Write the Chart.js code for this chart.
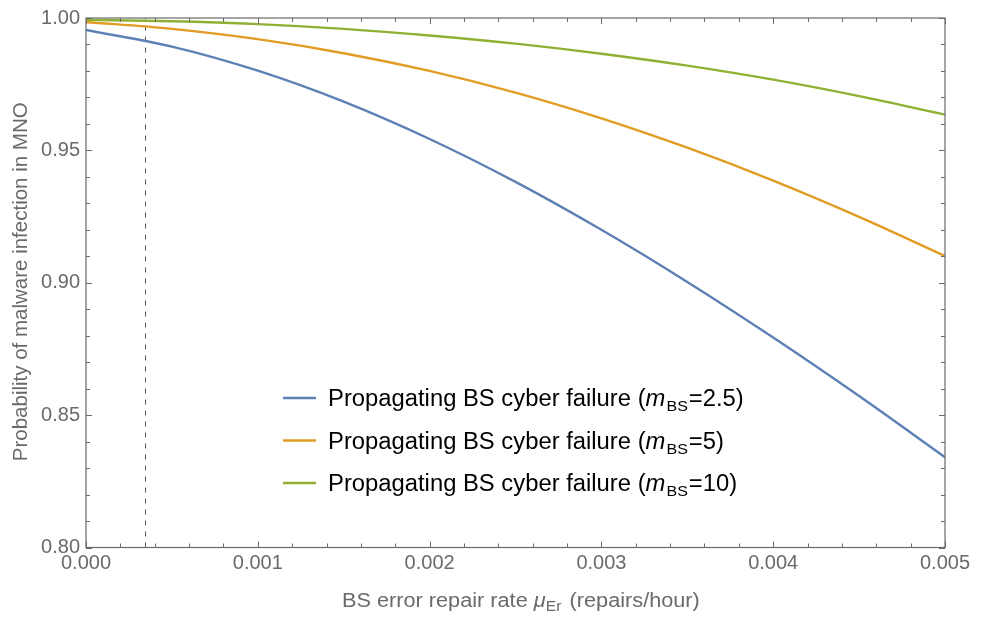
<!DOCTYPE html>
<html>
<head>
<meta charset="utf-8">
<script src="https://cdn.jsdelivr.net/npm/chart.js@4/dist/chart.umd.min.js"></script>
<style>
  html, body { margin: 0; padding: 0; background: #fff; }
  #c { display: block; }
</style>
</head>
<body>
<canvas id="c" width="981" height="617"></canvas>
<script>
// ---- Data ----
const repairRates = [0, 0.0005, 0.001, 0.0015, 0.002, 0.0025, 0.003, 0.0035, 0.004, 0.0045, 0.005];
const probM2p5 = [0.9955, 0.9892, 0.9801, 0.9684, 0.9543, 0.9381, 0.9200, 0.9003, 0.8793, 0.8572, 0.8341];
const probM5   = [0.9985, 0.9959, 0.9920, 0.9867, 0.9800, 0.9718, 0.9621, 0.9510, 0.9386, 0.9249, 0.9101];
const probM10  = [0.9993, 0.9988, 0.9977, 0.9959, 0.9934, 0.9903, 0.9865, 0.9820, 0.9767, 0.9705, 0.9635];
const mValues = ['2.5', '5', '10'];
const seriesLabelBase = 'Propagating BS cyber failure (';
const xTickValues = [0, 0.001, 0.002, 0.003, 0.004, 0.005];
const yTickValues = [0.80, 0.85, 0.90, 0.95, 1.00];
const xMinorStep = 0.0002;
const yMinorStep = 0.01;
const dashedLineX = 0.000343;
const xTitleParts = ['BS error repair rate ', '\u03BC', 'Er', ' (repairs/hour)'];
const yTitle = 'Probability of malware infection in MNO';

const colors = ['#5E81B5', '#E19C24', '#8FB032'];
const FONT = '"Liberation Sans", Arial, sans-serif';

function toPoints(ys) { return repairRates.map((x, i) => ({ x: x, y: ys[i] })); }

const series = [probM2p5, probM5, probM10];
const datasets = series.map((s, i) => ({
  label: seriesLabelBase + 'm_BS=' + mValues[i] + ')',
  data: toPoints(s),
  borderColor: colors[i],
  backgroundColor: colors[i],
  borderWidth: 2.4,
  pointRadius: 0,
  cubicInterpolationMode: 'monotone',
  fill: false
}));

function drawRich(ctx, parts, x, y, sx) {
  ctx.save();
  ctx.translate(x, y);
  ctx.scale(sx || 1, 1);
  let cx = 0;
  parts.forEach(p => {
    ctx.font = p.font;
    ctx.fillStyle = p.color;
    ctx.fillText(p.text, cx, (p.dy || 0));
    cx += ctx.measureText(p.text).width + (p.after || 0);
  });
  ctx.restore();
}

const framePlugin = {
  id: 'framePlugin',
  beforeDatasetsDraw(chart) {
    const { ctx, chartArea: a, scales: { x } } = chart;
    const px = x.getPixelForValue(dashedLineX);
    ctx.save();
    ctx.strokeStyle = '#555';
    ctx.lineWidth = 1;
    ctx.setLineDash([5, 6]);
    ctx.beginPath();
    ctx.moveTo(Math.round(px) + 0.5, a.bottom);
    ctx.lineTo(Math.round(px) + 0.5, a.top);
    ctx.stroke();
    ctx.restore();
  },
  afterDatasetsDraw(chart) {
    const { ctx, chartArea: a, scales: { x, y } } = chart;
    ctx.save();
    ctx.strokeStyle = '#6a6a6a';
    ctx.lineWidth = 1.2;
    ctx.setLineDash([]);
    ctx.strokeRect(a.left, a.top, a.right - a.left, a.bottom - a.top);
    ctx.lineWidth = 1;
    ctx.beginPath();
    const nx = Math.round((x.max - x.min) / xMinorStep);
    for (let i = 0; i <= nx; i++) {
      const v = x.min + i * xMinorStep;
      const len = (i % 5 === 0) ? 6 : 4;
      const px = Math.round(x.getPixelForValue(v)) + 0.5;
      ctx.moveTo(px, a.bottom); ctx.lineTo(px, a.bottom - len);
      ctx.moveTo(px, a.top); ctx.lineTo(px, a.top + len);
    }
    const ny = Math.round((y.max - y.min) / yMinorStep);
    for (let i = 0; i <= ny; i++) {
      const v = y.min + i * yMinorStep;
      const len = (i % 5 === 0) ? 6 : 4;
      const py = Math.round(y.getPixelForValue(v)) + 0.5;
      ctx.moveTo(a.left, py); ctx.lineTo(a.left + len, py);
      ctx.moveTo(a.right, py); ctx.lineTo(a.right - len, py);
    }
    ctx.stroke();

    // Axis titles
    ctx.textBaseline = 'alphabetic';
    ctx.textAlign = 'left';
    const tf = '20px ' + FONT;
    const tfi = 'italic 20px ' + FONT;
    const tfs = '14.5px ' + FONT;
    const tc = '#6a6a6a';
    drawRich(ctx, [
      { text: xTitleParts[0], font: tf, color: tc },
      { text: xTitleParts[1], font: tfi, color: tc },
      { text: xTitleParts[2], font: tfs, color: tc, dy: 4, after: 2 },
      { text: xTitleParts[3], font: tf, color: tc }
    ], 342, 606.5, 1.085);

    ctx.save();
    ctx.translate(27, (a.top + a.bottom) / 2 - 1);
    ctx.rotate(-Math.PI / 2);
    ctx.font = '20.5px ' + FONT;
    ctx.fillStyle = tc;
    ctx.textAlign = 'center';
    ctx.fillText(yTitle, 0, 0);
    ctx.restore();

    // Legend
    const rows = [398, 440.5, 483];
    const lf = '23px ' + FONT;
    const lfi = 'italic 23px ' + FONT;
    const lfs = '15.5px ' + FONT;
    chart.data.datasets.forEach((ds, i) => {
      const ry = rows[i];
      ctx.strokeStyle = ds.borderColor;
      ctx.lineWidth = 2.4;
      ctx.beginPath();
      ctx.moveTo(283, ry); ctx.lineTo(316, ry);
      ctx.stroke();
      drawRich(ctx, [
        { text: seriesLabelBase, font: lf, color: '#000' },
        { text: 'm', font: lfi, color: '#000', after: 1 },
        { text: 'BS', font: lfs, color: '#000', dy: 5, after: 1 },
        { text: '=' + mValues[i] + ')', font: lf, color: '#000' }
      ], 328, ry + 8, 1.035);
    });
    ctx.restore();
  }
};

new Chart(document.getElementById('c'), {
  type: 'line',
  data: { datasets: datasets },
  options: {
    responsive: false,
    animation: false,
    devicePixelRatio: 1,
    layout: { padding: { left: 0, top: 16, right: 36, bottom: 0 } },
    plugins: { legend: { display: false }, tooltip: { enabled: false } },
    scales: {
      x: {
        type: 'linear',
        min: 0, max: 0.005,
        afterBuildTicks(scale) { scale.ticks = xTickValues.map(v => ({ value: v })); },
        afterFit(scale) { scale.height = 617 - 547.5; },
        grid: { display: false, drawTicks: false },
        border: { display: false },
        ticks: {
          color: '#6a6a6a',
          font: { family: FONT, size: 20 },
          padding: 4,
          maxRotation: 0,
          autoSkip: false,
          callback: v => Number(v).toFixed(3)
        }
      },
      y: {
        type: 'linear',
        min: 0.8, max: 1.0,
        afterBuildTicks(scale) { scale.ticks = yTickValues.map(v => ({ value: v })); },
        afterFit(scale) { scale.width = 86; },
        grid: { display: false, drawTicks: false },
        border: { display: false },
        ticks: {
          color: '#6a6a6a',
          font: { family: FONT, size: 20 },
          padding: 6,
          autoSkip: false,
          callback: v => Number(v).toFixed(2)
        }
      }
    }
  },
  plugins: [framePlugin]
});
</script>
</body>
</html>
